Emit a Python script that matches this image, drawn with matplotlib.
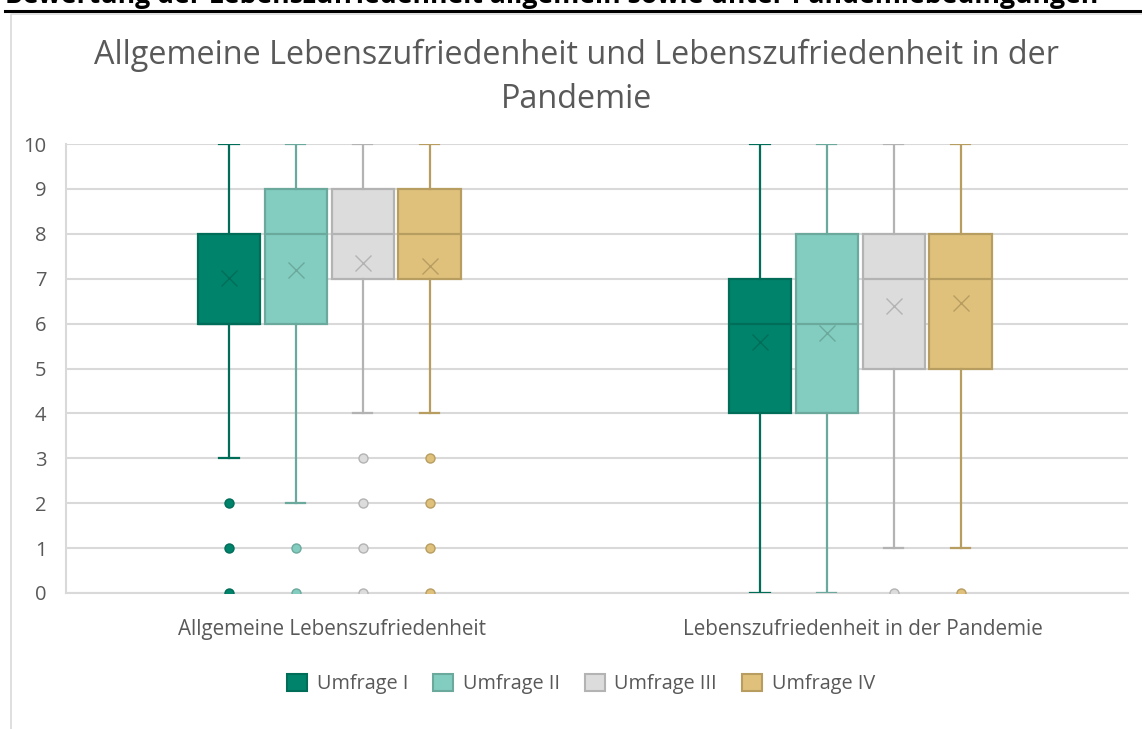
import matplotlib
matplotlib.use("Agg")
import matplotlib.pyplot as plt
from matplotlib.patches import Patch
from matplotlib.lines import Line2D

W, H = 1142, 729

categories = ["Allgemeine Lebenszufriedenheit", "Lebenszufriedenheit in der Pandemie"]
series = ["Umfrage I", "Umfrage II", "Umfrage III", "Umfrage IV"]

# per series: values for [Allgemeine, Pandemie]
q1 = {"Umfrage I": [6, 4], "Umfrage II": [6, 4], "Umfrage III": [7, 5], "Umfrage IV": [7, 5]}
med = {"Umfrage I": [6, 6], "Umfrage II": [8, 6], "Umfrage III": [8, 7], "Umfrage IV": [8, 7]}
q3 = {"Umfrage I": [8, 7], "Umfrage II": [9, 8], "Umfrage III": [9, 8], "Umfrage IV": [9, 8]}
whislo = {"Umfrage I": [3, 0], "Umfrage II": [2, 0], "Umfrage III": [4, 1], "Umfrage IV": [4, 1]}
whishi = {"Umfrage I": [10, 10], "Umfrage II": [10, 10], "Umfrage III": [10, 10], "Umfrage IV": [10, 10]}
means = {"Umfrage I": [7.01, 5.59], "Umfrage II": [7.19, 5.79], "Umfrage III": [7.35, 6.39], "Umfrage IV": [7.28, 6.46]}
fliers = {"Umfrage I": [[2, 1, 0], []], "Umfrage II": [[1, 0], []],
          "Umfrage III": [[3, 2, 1, 0], [0]], "Umfrage IV": [[3, 2, 1, 0], [0]]}

fills = {"Umfrage I": "#00836B", "Umfrage II": "#82CDC0", "Umfrage III": "#DCDCDC", "Umfrage IV": "#DFC17C"}
edges = {"Umfrage I": "#006D59", "Umfrage II": "#6BA99D", "Umfrage III": "#B3B3B3", "Umfrage IV": "#B89D60"}

yticks = list(range(0, 11))

txt = "#595959"
grid = "#D9D9D9"

fig = plt.figure(figsize=(W / 100, H / 100), dpi=100)
ax = fig.add_axes([66 / W, 1 - 593 / H, (1128 - 66) / W, (593 - 144) / H])

offsets = [-1.5, -0.5, 0.5, 1.5]
step = 0.126
bw = 0.118
for si, s in enumerate(series):
    stats = []
    pos = []
    for ci in range(len(categories)):
        stats.append(dict(q1=q1[s][ci], med=med[s][ci], q3=q3[s][ci], whislo=whislo[s][ci],
                          whishi=whishi[s][ci], mean=means[s][ci], fliers=fliers[s][ci]))
        pos.append(ci + offsets[si] * step - 0.004)
    ec = edges[s]
    ax.bxp(stats, positions=pos, widths=bw, capwidths=0.036, patch_artist=True, showmeans=True,
           boxprops=dict(facecolor=fills[s], edgecolor=ec, linewidth=1.6),
           medianprops=dict(color=ec, linewidth=1.6),
           whiskerprops=dict(color=ec, linewidth=1.6),
           capprops=dict(color=ec, linewidth=1.6),
           meanprops=dict(marker="x", markersize=12, markeredgecolor=ec, markeredgewidth=1.0),
           flierprops=dict(marker="o", markersize=6.5, markerfacecolor=fills[s], markeredgecolor=ec,
                           markeredgewidth=1.0),
           zorder=3)

ax.set_xlim(-0.5, 1.5)
ax.set_ylim(0, 10)
ax.set_yticks(yticks)
ax.set_yticklabels([str(v) for v in yticks])
ax.set_xticks(range(len(categories)))
ax.set_xticklabels(categories)
ax.yaxis.grid(True, color=grid, linewidth=1.5, zorder=0)
ax.set_axisbelow(True)
for sp in ["top", "right"]:
    ax.spines[sp].set_visible(False)
for sp in ["left", "bottom"]:
    ax.spines[sp].set_color(grid)
    ax.spines[sp].set_linewidth(1.5)
ax.tick_params(axis="both", length=0, colors=txt, labelsize=14.5)
ax.tick_params(axis="x", labelsize=14.9)
ax.tick_params(axis="y", pad=14)
ax.tick_params(axis="x", pad=19)
for lab in ax.get_xticklabels() + ax.get_yticklabels():
    lab.set_family("Open Sans")

fig.text(577 / W, 1 - 55 / H, "Allgemeine Lebenszufriedenheit und Lebenszufriedenheit in der",
         ha="center", va="center", fontsize=23.3, color=txt, family="Open Sans")
fig.text(577 / W, 1 - 100 / H, "Pandemie",
         ha="center", va="center", fontsize=23.3, color=txt, family="Open Sans")

fig.text(5 / W, 1 - 3 / H, "Bewertung der Lebenszufriedenheit allgemein sowie unter Pandemiebedingungen",
         ha="left", va="baseline", fontsize=19.2, fontweight="bold", color="black", family="Open Sans")
fig.add_artist(Line2D([5 / W, 1], [1 - 11 / H, 1 - 11 / H], color="black", linewidth=2.2,
                      transform=fig.transFigure))
fig.add_artist(Line2D([11 / W, 11 / W, 1], [0, 1 - 14 / H, 1 - 14 / H], color=grid, linewidth=1.2,
                      transform=fig.transFigure))

handles = [Patch(facecolor=fills[s], edgecolor=edges[s], linewidth=1.5, label=s) for s in series]
leg = fig.legend(handles=handles, loc="center", bbox_to_anchor=(581 / W, 1 - 684 / H), ncol=4,
                 frameon=False, handlelength=1.0, handleheight=1.0, columnspacing=1.25,
                 handletextpad=0.5, prop=dict(family="Open Sans", size=14.3))
for t in leg.get_texts():
    t.set_color(txt)

fig.savefig("out.png", dpi=100)
